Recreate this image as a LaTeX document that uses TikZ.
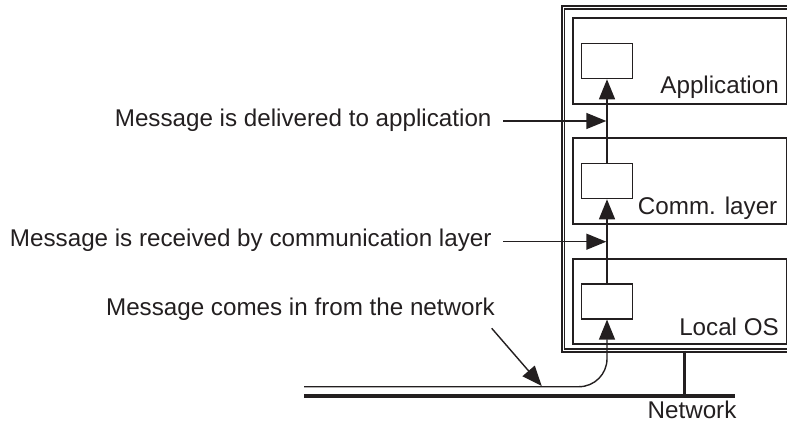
\documentclass[tikz,border=0pt]{standalone}
\usepackage{fontspec}
\setmainfont{Liberation Sans}
\usetikzlibrary{arrows.meta}
\definecolor{ink}{HTML}{231F20}
\begin{document}
\begin{tikzpicture}[x=1pt,y=-1pt,
  every node/.style={text=ink},
  layerbox/.style={draw=ink, line width=1.6pt, minimum width=214pt, inner sep=0pt, anchor=north west},
  procbox/.style={draw=ink, line width=1.6pt, minimum width=51pt, minimum height=35pt, inner sep=0pt, anchor=north west},
  lbl/.style={font=\fontsize{24.2}{29}\selectfont, inner sep=0pt},
  flow/.style={draw=ink, line width=1.4pt, -{Triangle[length=20pt,width=16pt]}},
  hostframe/.style={draw=ink, line width=1.8pt, double, double distance=0.7pt},
]
\useasboundingbox (0,0) rectangle (787,425);

% host machine frame
\draw[hostframe] (563,7.5) rectangle (805,350.5);

% protocol layers
\node[layerbox, minimum height=86pt] (app)  at (572,17)  {};
\node[layerbox, minimum height=86pt] (comm) at (572,137) {};
\node[layerbox, minimum height=85pt] (los)  at (572,258) {};

\node[lbl, anchor=base east] (appl)  at (779,94)    {Application};
\node[lbl, anchor=base east] (comml) at (777.5,214) {Comm. layer};
\node[lbl, anchor=base east] (losl)  at (779,335)   {Local OS};

% per-layer message buffers
\node[procbox] (appbuf)  at (580.7,42.7)  {};
\node[procbox] (commbuf) at (580.7,162.7) {};
\node[procbox] (losbuf)  at (580.7,283)   {};

% network
\coordinate (netL) at (304,396);
\coordinate (netR) at (735,396);
\draw[draw=ink, line width=4.2pt] (netL) -- (netR);
\coordinate (tapTop) at (684,350.5);
\coordinate (tapBot) at (684,396);
\draw[draw=ink, line width=3pt] (tapTop) -- (tapBot);
\node[lbl, anchor=base] (netl) at (692,418) {Network};

% message path upward through the stack
\coordinate (inStart) at (304,386.7);
\draw[flow, rounded corners=28pt] (inStart) -| (losbuf.south);
\draw[flow] (losbuf.north) -- (commbuf.south);
\draw[flow] (commbuf.north) -- (appbuf.south);

% annotations
\node[lbl, anchor=base east] (tdeliv) at (491.7,126.7) {Message is delivered to application};
\node[lbl, anchor=base east] (trecv)  at (491.7,246.7) {Message is received by communication layer};
\node[lbl, anchor=base east] (tin)    at (495,315)     {Message comes in from the network};

\coordinate (delivFrom) at (503,121);
\coordinate (delivTo)   at (606.3,121);
\coordinate (recvFrom)  at (503,241.7);
\coordinate (recvTo)    at (606.3,241.7);
\coordinate (inFrom)    at (491.7,328.3);
\coordinate (inTo)      at (541.7,386);
\draw[flow] (delivFrom) -- (delivTo);
\draw[flow] (recvFrom) -- (recvTo);
\draw[flow] (inFrom) -- (inTo);
\end{tikzpicture}
\end{document}
